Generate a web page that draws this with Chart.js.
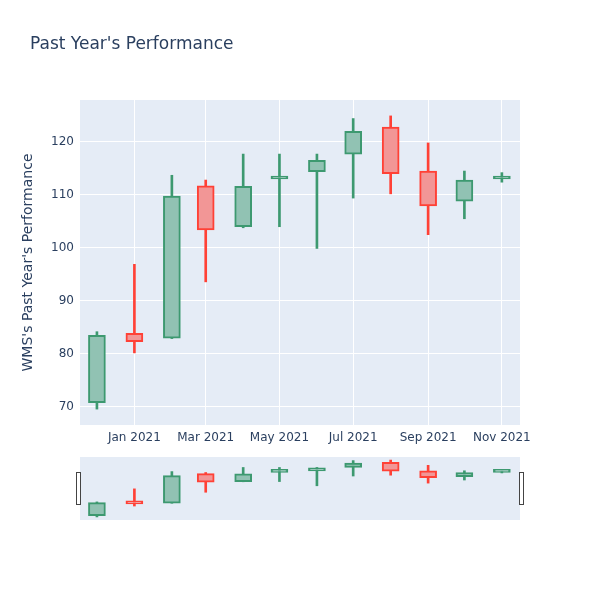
<!DOCTYPE html>
<html lang="en">
<head>
<meta charset="UTF-8">
<title>Past Year's Performance</title>
<style>
  html, body { margin: 0; padding: 0; background: #fff; }
  #wrap { position: relative; width: 600px; height: 600px; font-family: "DejaVu Sans", sans-serif; }
  #title { position: absolute; left: 30px; top: 33px; font-size: 17px; color: #2a3f5f; white-space: nowrap; }
  #main { position: absolute; left: 0; top: 0; }
  #slider { position: absolute; left: 0; top: 450px; }
</style>
<script src="https://cdn.jsdelivr.net/npm/chart.js"></script>
</head>
<body>
<div id="wrap">
  <canvas id="main" width="600" height="450"></canvas>
  <canvas id="slider" width="600" height="80"></canvas>
  <div id="title">Past Year's Performance</div>
</div>
<script>
// monthly candles
var months = ['2020-12-01', '2021-01-01', '2021-02-01', '2021-03-01', '2021-04-01', '2021-05-01',
              '2021-06-01', '2021-07-01', '2021-08-01', '2021-09-01', '2021-10-01', '2021-11-01'];
var openVals  = [70.8, 83.9, 83.0, 111.7, 104.0, 113.0, 114.4, 117.7, 122.8, 114.5, 108.8, 113.0];
var highVals  = [84.2, 96.9, 113.7, 112.8, 117.7, 117.7, 117.7, 124.4, 124.9, 119.8, 114.5, 114.2];
var lowVals   = [69.6, 80.2, 82.9, 93.6, 103.8, 104.0, 99.9, 109.4, 110.2, 102.5, 105.5, 112.4];
var closeVals = [83.5, 82.3, 109.8, 103.4, 111.6, 113.5, 116.5, 122.0, 114.0, 107.9, 112.8, 113.5];

var xTickDates  = ['2021-01-01', '2021-03-01', '2021-05-01', '2021-07-01', '2021-09-01', '2021-11-01'];
var xTickLabels = ['Jan 2021', 'Mar 2021', 'May 2021', 'Jul 2021', 'Sep 2021', 'Nov 2021'];
var yTicks = [70, 80, 90, 100, 110, 120];

var UP_LINE = '#3d9970', UP_FILL = '#91c2b3';
var DOWN_LINE = '#ff4136', DOWN_FILL = '#f29696';
var TXT = '#2a3f5f';

function day(s) { return Date.parse(s + 'T00:00:00Z') / 86400000; }

var xMin = day('2020-11-17'), xMax = day('2021-11-16');
var yMin = 66.6, yMax = 127.9;

var isUp = openVals.map(function(o, i) { return closeVals[i] >= o; });
var lineColors = isUp.map(function(u) { return u ? UP_LINE : DOWN_LINE; });
var fillColors = isUp.map(function(u) { return u ? UP_FILL : DOWN_FILL; });

function wickData() {
  return months.map(function(m, i) { return { x: day(m), y: [lowVals[i], highVals[i]] }; });
}
function bodyData() {
  return months.map(function(m, i) { return { x: day(m), y: [openVals[i], closeVals[i]] }; });
}

function datasets() {
  return [{
    data: bodyData(),
    backgroundColor: fillColors,
    borderColor: lineColors,
    borderWidth: 2,
    borderSkipped: false,
    barThickness: 17,
    minBarLength: 3,
    grouped: false,
    order: 1
  }, {
    data: wickData(),
    backgroundColor: lineColors,
    borderWidth: 0,
    barThickness: 2,
    grouped: false,
    order: 2
  }];
}

var plotBg = {
  id: 'plotBg',
  beforeDraw: function(chart) {
    var a = chart.chartArea, ctx = chart.ctx;
    ctx.save();
    ctx.fillStyle = '#e5ecf6';
    ctx.fillRect(a.left, a.top, a.right - a.left, a.bottom - a.top);
    ctx.restore();
  }
};

var grabbers = {
  id: 'grabbers',
  afterDraw: function(chart) {
    var a = chart.chartArea, ctx = chart.ctx;
    var mid = (a.top + a.bottom) / 2;
    ctx.save();
    ctx.fillStyle = '#fff';
    ctx.strokeStyle = '#444';
    ctx.lineWidth = 1;
    [a.left - 1.5, a.right + 1.5].forEach(function(x) {
      ctx.fillRect(x - 2, mid - 16, 4, 32);
      ctx.strokeRect(x - 2, mid - 16, 4, 32);
    });
    ctx.restore();
  }
};

new Chart(document.getElementById('main'), {
  type: 'bar',
  data: { datasets: datasets() },
  plugins: [plotBg],
  options: {
    responsive: false,
    animation: false,
    layout: { padding: { left: 14, right: 80, top: 100, bottom: 0 } },
    plugins: { legend: { display: false }, tooltip: { enabled: false } },
    scales: {
      x: {
        type: 'linear',
        min: xMin,
        max: xMax,
        offset: false,
        afterBuildTicks: function(s) { s.ticks = xTickDates.map(function(d) { return { value: day(d) }; }); },
        afterFit: function(s) { s.height = 25; },
        ticks: {
          autoSkip: false, maxRotation: 0, padding: 6, color: TXT,
          font: { family: 'DejaVu Sans', size: 12 },
          callback: function(v, i) { return xTickLabels[i]; }
        },
        grid: { color: '#ffffff', lineWidth: 1, drawTicks: false, offset: false },
        border: { display: false }
      },
      y: {
        min: yMin,
        max: yMax,
        afterBuildTicks: function(s) { s.ticks = yTicks.map(function(v) { return { value: v }; }); },
        afterFit: function(s) { s.width = 66; },
        title: {
          display: true, text: "WMS's Past Year's Performance", color: TXT,
          font: { family: 'DejaVu Sans', size: 14 }, padding: { top: 6, bottom: 0 }
        },
        ticks: { padding: 6, color: TXT, font: { family: 'DejaVu Sans', size: 12 } },
        grid: { color: '#ffffff', lineWidth: 1, drawTicks: false },
        border: { display: false }
      }
    }
  }
});

new Chart(document.getElementById('slider'), {
  type: 'bar',
  data: { datasets: datasets() },
  plugins: [plotBg, grabbers],
  options: {
    responsive: false,
    animation: false,
    layout: { padding: { left: 80, right: 80, top: 7, bottom: 10 } },
    plugins: { legend: { display: false }, tooltip: { enabled: false } },
    scales: {
      x: { type: 'linear', min: xMin, max: xMax, offset: false, display: false },
      y: { min: yMin, max: yMax, display: false }
    }
  }
});
</script>
</body>
</html>
